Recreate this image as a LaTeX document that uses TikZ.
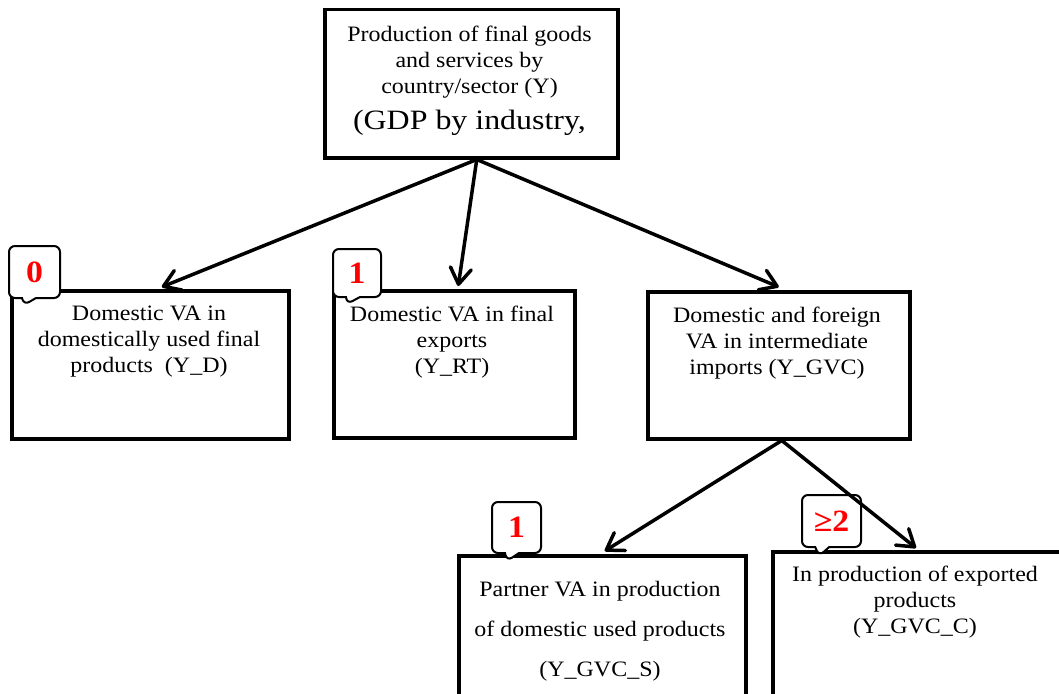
\documentclass[tikz,border=0pt]{standalone}
\usepackage{fontspec}
\setmainfont{Liberation Serif}
\newfontfamily\bodyfont[FakeStretch=1.09]{Liberation Serif}
\newfontfamily\widefont[FakeStretch=1.14]{Liberation Serif}
\usetikzlibrary{shapes.callouts,arrows.meta}
\begin{document}
\begin{tikzpicture}[x=1pt,y=-1pt,
  box/.style={draw=black,line width=3.5pt,fill=white,inner sep=0pt,anchor=north west},
  txt/.style={inner sep=0pt,anchor=north,align=center,font=\bodyfont\fontsize{22}{26}\selectfont},
  badge/.style={rectangle callout,draw=black,line width=2pt,fill=white,rounded corners=6pt,
    inner sep=0pt,callout pointer width=14pt,text=red,font=\bodyfont\bfseries\fontsize{31}{33}\selectfont},
  arr/.style={line width=3.5pt,line cap=round,-{Straight Barb[length=16pt,width=21pt,round]}}]
\useasboundingbox (0,0) rectangle (1059,693);
\clip (0,0) rectangle (1059,693);
% boxes
\node[box,minimum width=293pt,minimum height=148pt] (top) at (323,8) {};
\node[box,minimum width=277pt,minimum height=148pt] (A) at (10,289) {};
\node[box,minimum width=241pt,minimum height=147pt] (B) at (332,289) {};
\node[box,minimum width=262pt,minimum height=147pt] (C) at (646,290) {};
\node[box,minimum width=287pt,minimum height=180pt] (D) at (457,554) {};
\node[box,minimum width=320pt,minimum height=180pt] (E) at (771,550) {};
% texts
\node[txt] (tTop) at (469.5,26) {Production of final goods\\ and services by\\ country/sector (Y)\\[10pt] {\widefont\fontsize{28}{29}\selectfont (GDP by industry,}};
\node[txt] (tA) at (149,306) {Domestic VA in\\ domestically used final\\ products~~(Y\_D)};
\node[txt] (tB) at (452,306) {Domestic VA in final\\ exports\\ (Y\_RT)};
\node[txt] (tC) at (777,307) {Domestic and foreign\\ VA in intermediate\\ imports (Y\_GVC)};
\node[txt,font=\bodyfont\fontsize{22}{40}\selectfont] (tD) at (600,581) {Partner VA in production\\ of domestic used products\\ (Y\_GVC\_S)};
\node[txt] (tE) at (915,566) {In production of exported\\ products\\ (Y\_GVC\_C)};
% badges
\node[badge,minimum width=51pt,minimum height=52pt,callout absolute pointer={(24,305)}] (b0) at (34.5,272) {0};
\node[badge,minimum width=48pt,minimum height=48pt,callout absolute pointer={(347,304)}] (b1) at (357,273) {1};
\node[badge,minimum width=49pt,minimum height=51pt,callout absolute pointer={(507,561)}] (b2) at (516.5,527.5) {1};
\node[badge,minimum width=59pt,minimum height=52pt,callout absolute pointer={(819,556)}] (b3) at (831.5,521) {≥2};
% arrows
\coordinate (o1) at ([xshift=5.5pt]top.south);
\coordinate (o2) at ([xshift=3pt]C.south);
\draw[arr] (o1) -- ([xshift=11.5pt,yshift=2pt]A.north);
\draw[arr] (o1) -- ([xshift=4pt,yshift=3pt]B.north);
\draw[arr] (o1) -- ([xshift=0pt,yshift=3pt]C.north);
\draw[arr] (o2) -- ([xshift=2.5pt,yshift=3pt]D.north);
\draw[arr] (o2) -- ([xshift=145pt,yshift=2pt]E.north west);
\end{tikzpicture}
\end{document}
